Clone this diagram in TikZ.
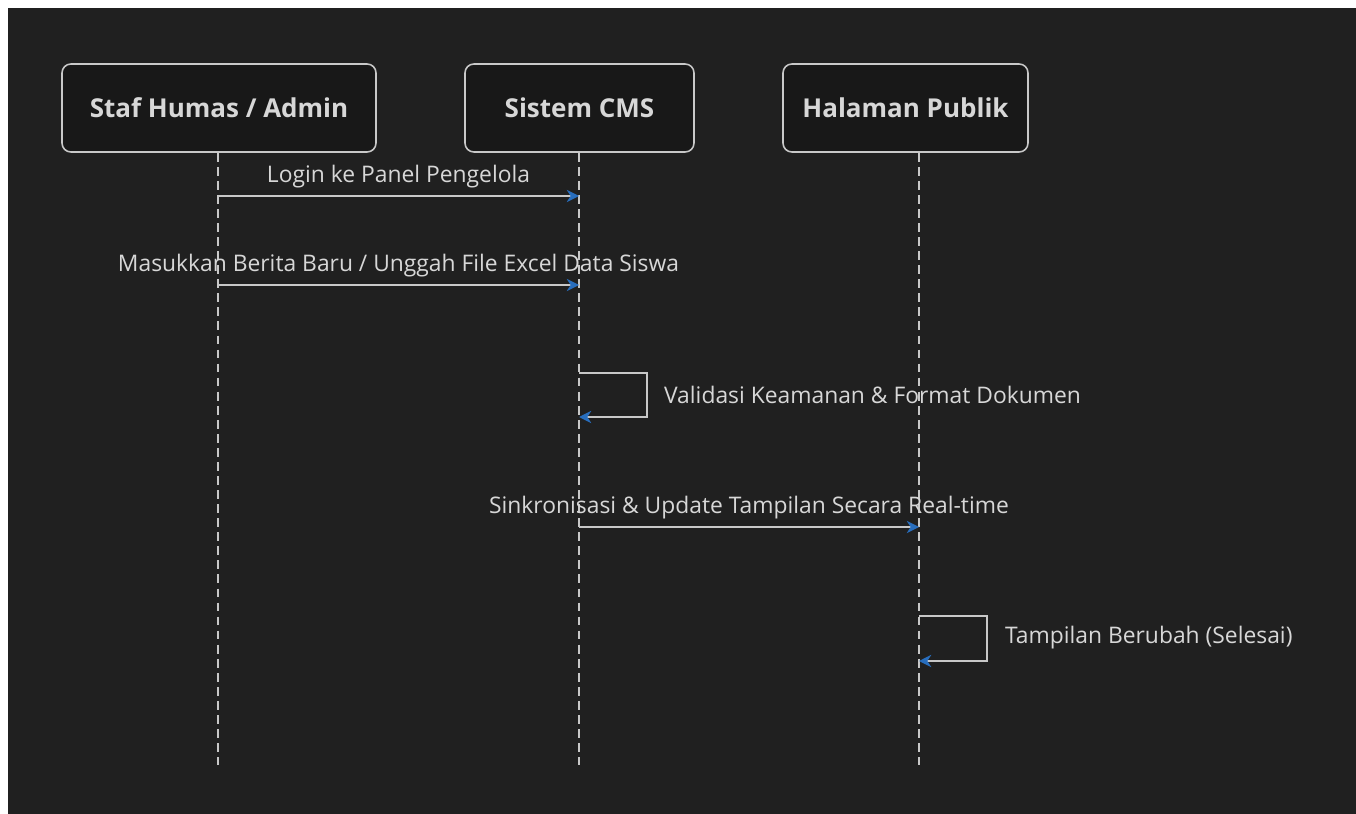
\documentclass[tikz,border=0pt]{standalone}
\usepackage{fontspec}
\setmainfont{Open Sans}
\usepackage{tikz}
\usetikzlibrary{positioning,calc,arrows.meta}
\definecolor{bgDark}{RGB}{32, 32, 32}
\definecolor{boxDark}{RGB}{24, 24, 24}
\definecolor{lineGray}{RGB}{200, 200, 200}
\definecolor{textGray}{RGB}{215, 215, 215}
\definecolor{tipBlue}{RGB}{40, 110, 190}

\begin{document}
\begin{tikzpicture}[x=0.02cm,y=-0.02cm,
                actor/.style={draw=lineGray,fill=boxDark,rounded corners=5pt,line width=0.9pt,
                              minimum height=1.76cm,font=\fontsize{14.8}{17}\selectfont\bfseries,text=textGray},
                lifeline/.style={draw=lineGray,dash pattern=on 5pt off 3pt,line width=0.7pt},
                msg/.style={draw=lineGray,line width=0.8pt,-{Stealth[length=7pt,width=7pt,color=tipBlue]}},
                msglabel/.style={font=\fontsize{13}{15}\selectfont,text=textGray,inner sep=1pt}
            ]
                % frame and background
                \useasboundingbox (0,0) rectangle (1356,814);
                \fill[white] (0,0) rectangle (1356,814);
                \fill[bgDark] (8,8) rectangle (1356,814);
                % participants
                \node[actor,minimum width=6.28cm] (staf) at (219,108) {Staf Humas / Admin};
                \node[actor,minimum width=4.58cm] (cms) at (579.5,108) {Sistem CMS};
                \node[actor,minimum width=4.9cm] (publik) at (905.5,108) {Halaman Publik};
                % lifeline ends
                \coordinate (stafEnd) at (218,765);
                \coordinate (cmsEnd) at (579,765);
                \coordinate (publikEnd) at (919,765);
                \draw[lifeline] (staf.south -| stafEnd) -- (stafEnd);
                \draw[lifeline] (cms.south -| cmsEnd) -- (cmsEnd);
                \draw[lifeline] (publik.south -| publikEnd) -- (publikEnd);
                % message points
                \coordinate (a1) at (218,196); \coordinate (b1) at (579,196);
                \coordinate (a2) at (218,285); \coordinate (b2) at (579,285);
                \coordinate (b3) at (579,373); \coordinate (b4) at (579,417);
                \coordinate (b5) at (579,527); \coordinate (c5) at (919,527);
                \coordinate (c6) at (919,616); \coordinate (c7) at (919,661);
                % messages
                \draw[msg] (a1) -- node[msglabel,above=3pt] {Login ke Panel Pengelola} (b1);
                \draw[msg] (a2) -- node[msglabel,above=3pt] {Masukkan Berita Baru / Unggah File Excel Data Siswa} (b2);
                \draw[msg] (b3) -- ++(68,0) -- ++(0,44) -- (b4);
                \node[msglabel,anchor=west] (valid) at (662,395) {Validasi Keamanan \& Format Dokumen};
                \draw[msg] (b5) -- node[msglabel,above=3pt] {Sinkronisasi \& Update Tampilan Secara Real-time} (c5);
                \draw[msg] (c6) -- ++(68,0) -- ++(0,45) -- (c7);
                \node[msglabel,anchor=west] (selesai) at (1003,638) {Tampilan Berubah (Selesai)};
            \end{tikzpicture}
\end{document}
